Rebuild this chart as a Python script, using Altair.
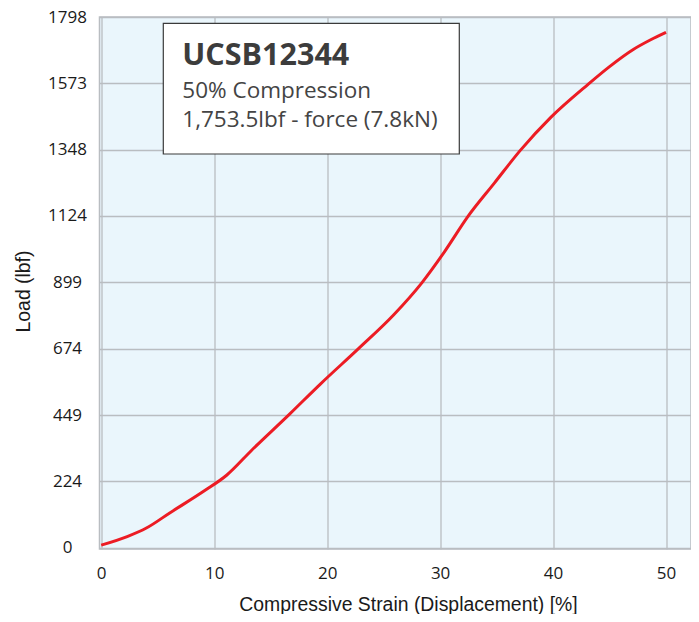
import altair as alt
import pandas as pd

# ---- data ----
strain = [0, 2.3, 4.0, 6.1, 9.2, 11.1, 13.3, 16.7, 19.4, 22.8, 25.9, 28.4,
          30.4, 32.5, 34.8, 37.1, 39.8, 43.1, 45.0, 47.1, 48.6, 50.0]
load = [8, 37, 66, 118, 194, 245, 329, 453, 554, 675, 789, 898,
        1003, 1124, 1235, 1346, 1458, 1570, 1630, 1688, 1720, 1746]
x_ticks = [0, 10, 20, 30, 40, 50]
y_ticks = [0, 224, 449, 674, 899, 1124, 1348, 1573, 1798]

box_title = "UCSB12344"
box_line1 = "50% Compression"
box_line2 = "1,753.5lbf - force (7.8kN)"

x_title = "Compressive Strain (Displacement) [%]"
y_title = "Load (lbf)"

df = pd.DataFrame({"strain": strain, "load": load})
one = pd.DataFrame({"k": [0]})

W, H = 591.5, 532

line = alt.Chart(df).mark_line(color="#ec1c24", strokeWidth=3, interpolate="monotone").encode(
    x=alt.X("strain:Q",
            scale=alt.Scale(domain=[-0.15, 52.21], nice=False, zero=False),
            axis=alt.Axis(values=x_ticks, title=x_title, ticks=False, tickSize=0,
                          domain=False, labelPadding=16, labelFontSize=17,
                          labelFont="Open Sans", labelColor="#1a1a1a",
                          titleFont="Liberation Sans", titleFontSize=19.4,
                          titleFontWeight="normal", titleColor="#1a1a1a",
                          titleX=308.5, titleY=61, titleBaseline="alphabetic",
                          grid=True, gridColor="#b9bdc1", gridWidth=1.3)),
    y=alt.Y("load:Q",
            scale=alt.Scale(domain=[-5, 1798], nice=False, zero=False),
            axis=alt.Axis(values=y_ticks, format="d", title=y_title, ticks=False, tickSize=0,
                          domain=False, labelPadding=32.5, labelAlign="center",
                          labelFontSize=17, labelFont="Open Sans", labelColor="#1a1a1a",
                          titleFont="Liberation Sans", titleFontSize=19.4,
                          titleFontWeight="normal", titleColor="#1a1a1a",
                          titleX=-70.5, titleY=274, titleBaseline="alphabetic",
                          grid=True, gridColor="#b9bdc1", gridWidth=1.3)),
)

box = alt.Chart(one).mark_rect(fill="white", stroke="#3a3a3a", strokeWidth=1.2).encode(
    x=alt.value(63.8), x2=alt.value(359.8), y=alt.value(6.3), y2=alt.value(137)
)

t1 = alt.Chart(one).mark_text(align="left", baseline="alphabetic", font="Open Sans",
                              fontWeight="bold", fontSize=30.5, color="#3c3c3c").encode(
    x=alt.value(82.8), y=alt.value(48), text=alt.value(box_title))
t2 = alt.Chart(one).mark_text(align="left", baseline="alphabetic", font="Open Sans",
                              fontSize=22.5, color="#444444").encode(
    x=alt.value(82.8), y=alt.value(81.3), text=alt.value(box_line1))
t3 = alt.Chart(one).mark_text(align="left", baseline="alphabetic", font="Open Sans",
                              fontSize=22.5, color="#444444").encode(
    x=alt.value(82.8), y=alt.value(109.7), text=alt.value(box_line2))

chart = alt.layer(line, box, t1, t2, t3).properties(
    width=W, height=H,
    autosize=alt.AutoSizeParams(type="none"),
    padding={"left": 91.5, "top": 9, "right": 0, "bottom": 65},
    background="white",
).configure_view(fill="#eaf6fc", stroke="#b9bdc1", strokeWidth=1.5)

chart.save("out.html", embed_options={"renderer": "svg", "actions": False})
